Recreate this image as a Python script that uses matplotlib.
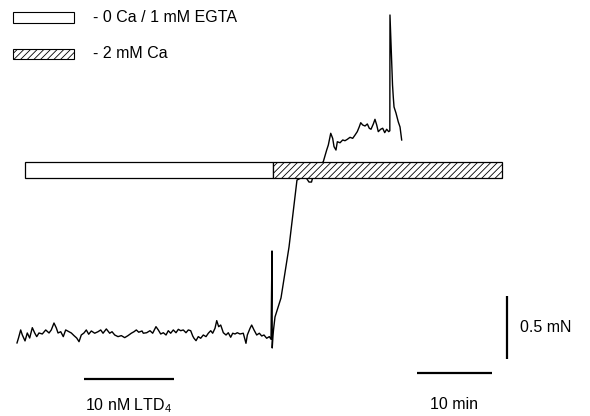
import matplotlib
matplotlib.use("Agg")
import matplotlib.pyplot as plt
from matplotlib.patches import Rectangle
import numpy as np

plt.rcParams['font.family'] = ['Liberation Sans', 'DejaVu Sans']
plt.rcParams['hatch.linewidth'] = 0.6

# Isometric tension trace: time (min) and force (mN, relative to baseline)
time_min = [
    0.00, 0.20, 0.49, 0.71, 1.07, 1.37, 1.69, 2.04, 2.36, 2.63, 2.93, 3.37, 3.83,
    4.27, 4.57, 4.93, 5.24, 5.47, 5.83, 6.17, 6.49, 6.93, 7.24, 7.60, 7.96, 8.27,
    8.57, 8.93, 9.24, 9.56, 9.91, 10.36, 10.80, 11.16, 11.47, 11.91, 12.36, 12.67,
    13.03, 13.47, 13.91, 14.36, 14.80, 15.24, 15.60, 15.91, 16.23, 16.67, 16.84,
    17.29, 17.73, 18.09, 18.53, 18.84, 19.16, 19.51, 19.87, 20.17, 20.49, 20.84,
    21.20, 21.51, 21.83, 22.17, 22.53, 22.84, 23.16, 23.43, 23.60, 23.87, 24.17,
    24.49, 24.84, 25.20, 25.51, 25.83, 26.09, 26.40, 26.63, 26.89, 27.16, 27.51,
    27.87, 28.17, 28.49, 28.76, 29.07, 29.37, 29.73, 30.17, 30.53, 30.71, 31.07,
    31.29, 31.60, 31.96, 32.31, 32.63, 32.93, 33.29, 33.64, 33.87,
    34.00, 34.03, 34.13,
    34.20, 34.40, 35.20, 36.27, 37.33, 38.40, 38.93, 39.27, 39.47, 40.13, 40.84,
    41.29, 41.51, 41.83, 42.09, 42.27, 42.53, 42.71, 43.07, 43.43, 43.73, 44.04,
    44.40, 44.76, 45.07, 45.37, 45.64, 45.83, 46.09, 46.40, 46.71, 46.97, 47.20,
    47.51, 47.73, 47.96, 48.17, 48.49, 48.76, 49.03, 49.29, 49.56, 49.71,
    49.73, 50.07, 50.17, 50.27, 50.53, 50.71, 50.84, 51.07, 51.29,
]
force_mN = [
    -0.079, -0.040, 0.024, -0.016, -0.063, 0.000, -0.040, 0.042, 0.000, -0.029,
    0.000, -0.008, 0.024, 0.000, 0.024, 0.079, 0.040, 0.000, 0.010, -0.029, 0.024,
    0.010, 0.000, -0.021, -0.040, -0.069, -0.016, 0.000, 0.024, -0.010, 0.016,
    -0.002, 0.010, 0.024, -0.002, 0.032, -0.002, 0.010, -0.016, -0.029, -0.021,
    -0.037, -0.021, -0.002, 0.010, 0.024, 0.006, 0.016, -0.002, 0.002, 0.018,
    -0.002, 0.050, 0.024, -0.008, 0.002, -0.016, 0.018, -0.002, 0.024, 0.002,
    0.029, 0.018, 0.024, 0.002, 0.024, 0.018, -0.024, -0.042, -0.061, -0.029,
    -0.042, -0.016, -0.029, -0.002, 0.018, -0.002, 0.037, 0.098, 0.050, 0.063,
    0.002, -0.016, 0.002, -0.034, -0.002, -0.008, 0.002, -0.008, -0.002, -0.082,
    -0.016, 0.037, 0.063, 0.024, -0.016, -0.002, -0.024, -0.016, -0.042, -0.029,
    -0.050,
    0.651, -0.119, -0.024,
    0.024, 0.127, 0.278, 0.683, 1.214, 1.246, 1.198, 1.198, 1.246, 1.317, 1.360,
    1.452, 1.492, 1.585, 1.545, 1.479, 1.452, 1.518, 1.510, 1.532, 1.526, 1.537,
    1.553, 1.545, 1.571, 1.598, 1.637, 1.669, 1.651, 1.643, 1.659, 1.625, 1.617,
    1.659, 1.696, 1.651, 1.598, 1.617, 1.625, 1.590, 1.617, 1.598, 1.605,
    2.524, 1.968, 1.873, 1.794, 1.746, 1.706, 1.675, 1.635, 1.532,
]

# Perfusion periods (min)
egta_period = (1.07, 34.13)
calcium_period = (34.13, 64.67)
period_band = (1.230, 1.357)   # vertical extent of the period bars (mN)

# LTD4 application bar (min) and scale bars
ltd4_bar = (8.93, 20.93)
time_scale_min = 10
force_scale_mN = 0.5

fig = plt.figure(figsize=(5.9, 4.16), dpi=100)
ax = fig.add_axes([0, 0, 1, 1])
ax.set_xlim(-2.267, 76.4)
ax.set_ylim(-0.659, 2.643)
ax.axis('off')

ax.plot(time_min, force_mN, color='black', lw=1.0, zorder=2)

# Period bars drawn over the trace
lo, hi = period_band
ax.add_patch(Rectangle((egta_period[0], lo), egta_period[1] - egta_period[0], hi - lo,
                       facecolor='white', edgecolor='black', lw=0.9, zorder=3))
ax.add_patch(Rectangle((calcium_period[0], lo), calcium_period[1] - calcium_period[0], hi - lo,
                       facecolor='white', edgecolor='black', hatch='/////', lw=0.9, zorder=3))

# Legend
tr = ax.transAxes
W, H = 590.0, 416.0
ax.add_patch(Rectangle((13 / W, 1 - 23 / H), 61 / W, 11 / H, transform=tr,
                       facecolor='white', edgecolor='black', lw=0.8))
ax.add_patch(Rectangle((13 / W, 1 - 59 / H), 61 / W, 10 / H, transform=tr,
                       facecolor='white', edgecolor='black', hatch='/////', lw=0.8))
ax.text(93 / W, 1 - 18 / H, '- 0 Ca / 1 mM EGTA', transform=tr, fontsize=11.5,
        va='center', ha='left')
ax.text(93 / W, 1 - 54 / H, '- 2 mM Ca', transform=tr, fontsize=11.5,
        va='center', ha='left')

# LTD4 bar
ax.plot(ltd4_bar, [-0.365, -0.365], color='black', lw=1.6, solid_capstyle='butt')
ax.text(np.mean(ltd4_bar), -0.575, '10 nM LTD$\\mathregular{_4}$', fontsize=11.5,
        ha='center', va='center')

# Scale bars
t0 = 53.3
ax.plot([t0, t0 + time_scale_min], [-0.317, -0.317], color='black', lw=1.6,
        solid_capstyle='butt')
ax.text(t0 + time_scale_min / 2, -0.571, f'{time_scale_min} min', fontsize=11.5,
        ha='center', va='center')
x_f = 65.3
f0 = -0.206
ax.plot([x_f, x_f], [f0, f0 + force_scale_mN], color='black', lw=1.6,
        solid_capstyle='butt')
ax.text(x_f + 1.8, f0 + force_scale_mN / 2, f'{force_scale_mN} mN', fontsize=11.5,
        ha='left', va='center')

fig.savefig('out.png', dpi=100)
